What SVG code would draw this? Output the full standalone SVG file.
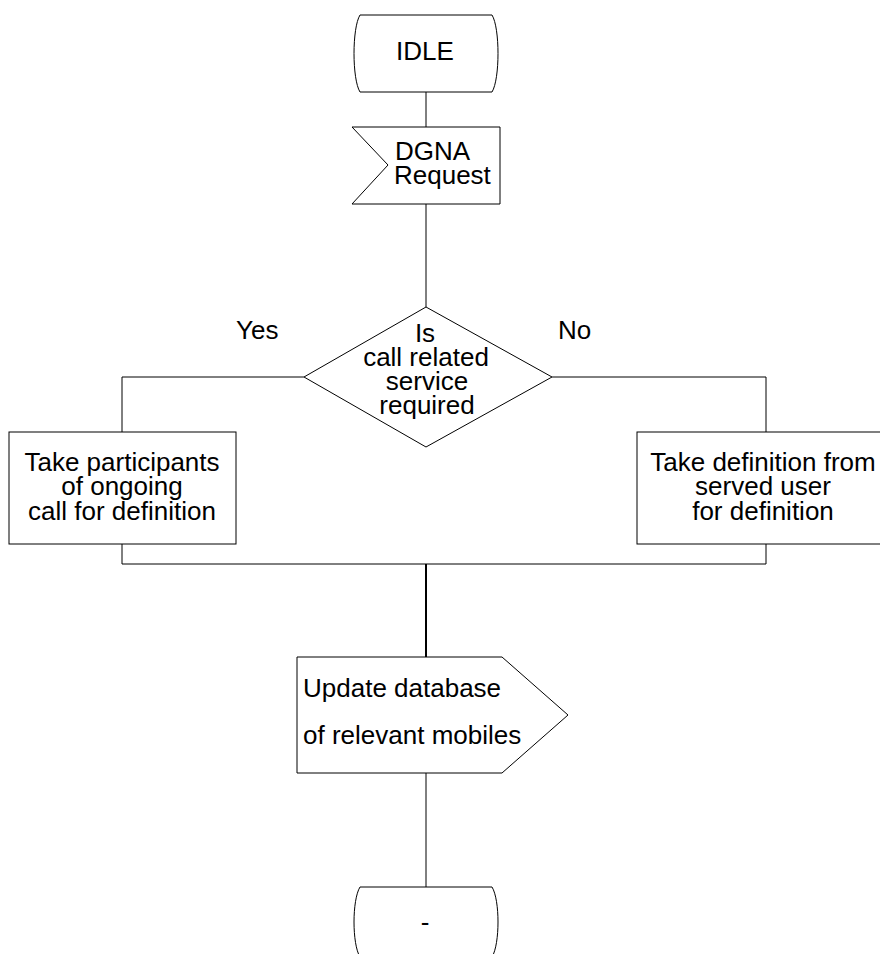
<svg xmlns="http://www.w3.org/2000/svg" width="880" height="954" viewBox="0 0 880 954">
<style>
.s{fill:#fff;stroke:#000;stroke-width:1}
.c{fill:none;stroke:#000;stroke-width:1}
.t{font-family:"Liberation Sans",Arial,sans-serif;font-size:26px;fill:#000}
.m{text-anchor:middle}
</style>
<rect width="880" height="954" fill="#fff"/>
<g id="connectors">
<path class="c" d="M426,92V127M426,204V307"/>
<path class="c" d="M304,377H122V432M552,377H766V432"/>
<path class="c" d="M122,544V564H766V544"/>
<path d="M426,564V657" fill="none" stroke="#000" stroke-width="2"/>
<path class="c" d="M426,773V887"/>
</g>
<g id="idle">
<path class="s" d="M360,15H492C500,28 500,79 492,92H360C352,79 352,28 360,15Z"/>
<text class="t m" x="425" y="60">IDLE</text>
</g>
<g id="dgna">
<path class="s" d="M352,127H500V204H352L388,165Z"/>
<text class="t" x="395" y="160">DGNA</text>
<text class="t" x="394" y="184">Request</text>
</g>
<g id="decision">
<path class="s" d="M426,307L552,377L426,447L304,377Z"/>
<text class="t m" x="425" y="342">Is</text>
<text class="t m" x="426" y="366">call related</text>
<text class="t m" x="427" y="390">service</text>
<text class="t m" x="427" y="414">required</text>
<text class="t" x="236" y="339">Yes</text>
<text class="t" x="558" y="339">No</text>
</g>
<g id="take_participants">
<rect class="s" x="9" y="432" width="227" height="112"/>
<text class="t m" x="122" y="471">Take participants</text>
<text class="t m" x="122" y="495">of ongoing</text>
<text class="t m" x="122" y="520">call for definition</text>
</g>
<g id="take_definition">
<rect class="s" x="637" y="432" width="260" height="112"/>
<text class="t m" x="763" y="471">Take definition from</text>
<text class="t m" x="763" y="495">served user</text>
<text class="t m" x="763" y="520">for definition</text>
</g>
<g id="update">
<path class="s" d="M297,657H502L568,715L502,773H297Z"/>
<text class="t" x="303" y="697">Update database</text>
<text class="t" x="303" y="744">of relevant mobiles</text>
</g>
<g id="end">
<path class="s" d="M360,887H492C500,900 500,944 492,957H360C352,944 352,900 360,887Z"/>
<text class="t m" x="425" y="931">-</text>
</g>
</svg>
